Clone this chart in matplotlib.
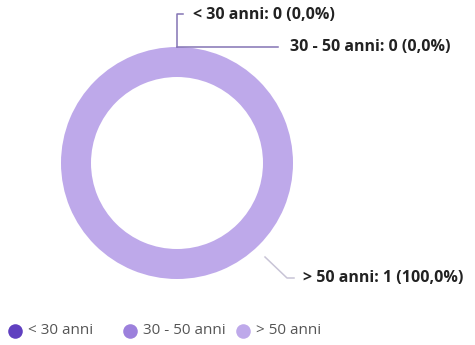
import matplotlib as mpl
mpl.use('Agg')
import matplotlib.pyplot as plt

categories = ['< 30 anni', '30 - 50 anni', '> 50 anni']
counts = [0, 0, 1]
colors = ['#6040c0', '#9c80dc', '#bea9ea']

W, H, DPI = 475, 345, 100
fig = plt.figure(figsize=(W / DPI, H / DPI), dpi=DPI)
ax = fig.add_axes([0, 0, 1, 1])

cx, cy, r = 177, 163, 116
ax.pie(counts, colors=colors, center=(cx, cy), radius=r, startangle=90,
       counterclock=False, wedgeprops=dict(width=30, linewidth=0))
ax.set_xlim(0, W)
ax.set_ylim(H, 0)
ax.set_aspect('equal')
ax.axis('off')

total = sum(counts)
labels = []
for name, v in zip(categories, counts):
    pct = f'{100 * v / total:.1f}'.replace('.', ',')
    labels.append(f'{name}: {v} ({pct}%)')

font = dict(family=['Open Sans', 'DejaVu Sans'], fontsize=11.5, fontweight='bold',
            color='#222222', va='center', ha='left')
line_dark = dict(color='#8474b4', lw=1.1)
line_light = dict(color='#c8c4d6', lw=1.1)

# zero slices sit at the top of the ring
top = cy - r
ax.plot([cx, cx, cx + 6], [top, 14, 14], **line_dark)
ax.text(cx + 16, 15, labels[0], **font)
ax.plot([cx, 278], [top, top], **line_dark)
ax.text(290, top, labels[1], **font)

# large slice, lower right
ax.plot([265, 287, 294], [257, 278, 278], **line_light)
ax.text(303, 278, labels[2], **font)

# legend
lx = [15, 130, 243]
for x, name, c in zip(lx, categories, colors):
    ax.scatter([x], [331], s=110, color=c, linewidths=0)
    ax.text(x + 13, 331, name, family=['Open Sans', 'DejaVu Sans'], fontsize=11,
            color='#555555', va='center', ha='left')

fig.savefig('out.png', dpi=DPI, facecolor='white')
